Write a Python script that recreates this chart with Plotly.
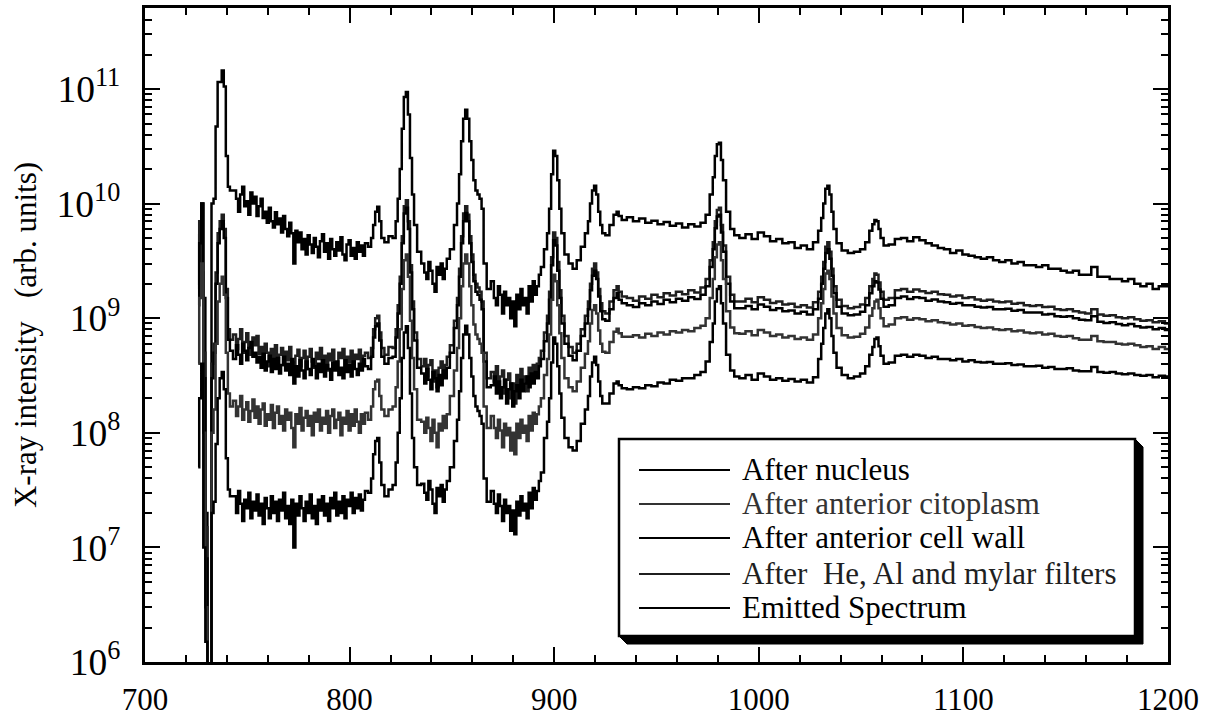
import plotly.graph_objects as go

# ---------------- data ----------------
energy = [
    726, 727, 728, 729, 730, 731, 732, 733, 734, 735, 736, 737, 738, 739, 740, 741, 742,
    744, 745, 746, 747, 748, 749, 750, 751, 752, 753,
    754, 755, 756, 757, 758, 759, 760, 761, 762, 763,
    764, 765, 766, 767, 768, 769, 770, 771, 772, 773,
    774, 775, 776, 777, 778, 779, 780, 781, 782, 783,
    784, 785, 786, 787, 788, 789, 790, 791, 792, 793,
    794, 795, 796, 797, 798, 799, 800, 801, 802, 803,
    804, 805, 806, 807, 808,
    810, 811, 812, 813, 814, 815, 816, 818, 820, 822, 823, 824, 825, 826, 827, 828, 829,
    830, 831, 832, 834,
    836, 837, 838, 839, 840, 841, 842, 843, 844, 845, 846, 847, 848,
    850, 852, 853, 854, 855, 856, 857, 858, 859, 860, 861, 862, 863, 864, 865, 866, 868,
    870, 871, 872, 873, 874, 875, 876, 877, 878, 879, 880, 881, 882, 883, 884, 885, 886,
    887, 888, 889, 890, 891, 892, 893, 894,
    896, 897, 898, 899, 900, 901, 902, 903, 904, 906, 908, 910, 912, 914, 916, 917, 918,
    919, 920, 921, 922, 923, 924, 926, 928, 930, 931, 932, 934,
    937, 940, 943, 946, 949, 952, 955, 958, 961, 964, 967, 970, 973,
    975, 977, 978, 979, 980, 981, 982, 983, 985, 987, 989,
    992, 995, 998, 1001, 1004, 1007, 1010, 1013, 1016, 1019, 1022, 1025, 1028,
    1030, 1031, 1032, 1033, 1034, 1035, 1036, 1037, 1039, 1042, 1045, 1048, 1051, 1053,
    1055, 1056, 1057, 1058, 1059, 1060, 1062, 1065,
    1068, 1071, 1074, 1077, 1080, 1083, 1086, 1089, 1092, 1095, 1098, 1101, 1104, 1107,
    1110, 1113, 1116, 1119, 1122, 1125, 1128, 1131, 1134, 1137, 1140, 1143, 1146, 1149,
    1152, 1155, 1158, 1161, 1164, 1167, 1170, 1173, 1176, 1179, 1182, 1185, 1188, 1191,
    1194, 1197, 1200,
]

emitted = [
    5.5e9, 2.0e9, 1.0e10, 1.5e9, 2.0e7, 4e5, 4e5, 1.0e10, 1.1e10, 4.7e10, 1.15e11, 1.15e11,
    1.45e11, 1.05e11, 2.6e10, 1.4e10, 1.3e10,
    1.3e10, 1.1e10, 8.5e9, 1.2e10, 1.4e10, 9.5e9, 1.05e10, 8.0e9, 1.25e10, 1.0e10,
    1.15e10, 7.8e9, 9.5e9, 1.1e10, 7.5e9, 8.5e9, 6.8e9, 9.2e9, 7.0e9, 6.2e9,
    8.4e9, 6.6e9, 7.4e9, 5.6e9, 7.8e9, 6.0e9, 5.2e9, 6.8e9, 5.5e9, 3.0e9,
    5.8e9, 4.6e9, 5.6e9, 4.0e9, 4.9e9, 3.6e9, 5.3e9, 4.4e9, 3.7e9, 5.0e9,
    4.2e9, 3.4e9, 4.7e9, 5.4e9, 3.8e9, 4.5e9, 3.3e9, 4.9e9, 4.0e9, 3.5e9,
    4.6e9, 3.9e9, 5.1e9, 3.6e9, 3.2e9, 4.4e9, 4.8e9, 3.5e9, 4.1e9, 3.3e9,
    4.6e9, 3.8e9, 4.3e9, 3.5e9, 4.5e9,
    4.2e9, 5.0e9, 6.5e9, 8.5e9, 9.4e9, 7.0e9, 5.0e9, 4.6e9, 5.2e9, 5.0e9, 7.0e9, 1.1e10,
    2.0e10, 4.5e10, 8.5e10, 9.4e10, 6.0e10, 2.5e10, 1.2e10, 6.5e9, 3.8e9,
    3.0e9, 2.5e9, 2.2e9, 3.1e9, 2.6e9, 2.0e9, 1.7e9, 2.8e9, 2.4e9, 3.0e9, 2.2e9, 2.7e9, 3.3e9,
    4.0e9, 6.5e9, 1.0e10, 1.8e10, 3.5e10, 5.5e10, 6.6e10, 5.5e10, 3.5e10, 2.4e10, 1.6e10,
    1.3e10, 1.2e10, 1.1e10, 9.0e9, 3.0e9, 1.8e9,
    2.1e9, 1.5e9, 1.3e9, 1.9e9, 1.6e9, 1.1e9, 1.7e9, 1.3e9, 1.5e9, 1.0e9, 1.4e9, 8.5e8,
    1.6e9, 1.2e9, 1.8e9, 1.3e9, 1.5e9, 1.1e9, 1.9e9, 1.4e9, 2.1e9, 1.6e9, 1.9e9, 2.4e9, 2.8e9,
    4.0e9, 5.5e9, 9.0e9, 1.8e10, 2.9e10, 2.6e10, 1.6e10, 9.0e9, 5.5e9, 3.6e9, 3.0e9, 2.7e9,
    3.2e9, 4.2e9, 5.5e9, 7.0e9, 1.0e10, 1.3e10, 1.43e10, 1.2e10, 8.5e9, 6.5e9, 5.5e9, 5.3e9,
    6.5e9, 8.0e9, 8.5e9, 7.8e9, 7.2e9,
    7.6e9, 7.0e9, 7.4e9, 6.8e9, 7.1e9, 6.6e9, 6.9e9, 6.4e9, 6.7e9, 6.2e9, 6.6e9, 6.3e9, 6.8e9,
    8.0e9, 1.2e10, 1.7e10, 2.6e10, 3.3e10, 3.4e10, 2.4e10, 1.6e10, 8.5e9, 6.0e9, 5.3e9,
    5.0e9, 5.4e9, 4.9e9, 5.6e9, 5.2e9, 4.7e9, 4.9e9, 4.5e9, 4.6e9, 4.1e9, 4.3e9, 4.0e9, 4.6e9,
    5.8e9, 7.5e9, 1.0e10, 1.35e10, 1.43e10, 1.2e10, 8.5e9, 6.0e9, 4.5e9, 3.9e9, 3.7e9, 3.8e9,
    4.0e9, 4.6e9, 5.8e9, 6.6e9, 7.2e9, 7.0e9, 6.0e9, 5.0e9, 4.3e9, 4.4e9,
    4.9e9, 5.0e9, 4.7e9, 5.1e9, 4.8e9, 4.5e9, 4.3e9, 4.1e9, 4.0e9, 3.7e9, 3.9e9, 3.6e9, 3.5e9,
    3.4e9, 3.3e9, 3.4e9, 3.2e9, 3.1e9, 3.2e9, 3.0e9, 3.1e9, 2.9e9, 2.9e9, 2.8e9, 2.9e9, 2.7e9,
    2.7e9, 2.6e9, 2.5e9, 2.6e9, 2.4e9, 2.4e9, 2.8e9, 2.3e9, 2.3e9, 2.2e9, 2.2e9, 2.1e9, 2.2e9,
    2.0e9, 1.9e9, 2.0e9, 1.8e9, 1.9e9, 1.9e9,
]

after_filters = [
    1.8e9, 7.0e9, 2.5e9, 5.0e8, 1.5e7, 4e5, 4e5, 4.0e8, 6.0e8, 2.5e9, 5.5e9, 7.0e9, 8.0e9,
    6.0e9, 1.8e9, 8.0e8, 6.5e8,
    7.2e8, 5.4e8, 6.6e8, 8.0e8, 5.0e8, 6.2e8, 7.4e8, 5.6e8, 4.8e8, 6.8e8,
    5.8e8, 7.0e8, 4.9e8, 5.6e8, 4.2e8, 6.0e8, 5.0e8, 3.8e8, 5.4e8, 4.6e8,
    5.8e8, 4.0e8, 4.8e8, 5.5e8, 3.9e8, 5.1e8, 4.3e8, 5.6e8, 4.1e8, 3.3e8,
    4.7e8, 5.3e8, 3.8e8, 4.5e8, 5.2e8, 3.6e8, 4.6e8, 5.4e8, 4.2e8, 3.7e8,
    5.0e8, 4.4e8, 5.5e8, 3.9e8, 4.7e8, 3.5e8, 4.9e8, 4.3e8, 5.3e8, 4.0e8,
    3.6e8, 5.0e8, 4.5e8, 5.4e8, 3.8e8, 4.6e8, 4.1e8, 5.2e8, 3.7e8, 4.8e8,
    4.4e8, 5.3e8, 4.0e8, 4.7e8, 5.0e8,
    4.5e8, 5.5e8, 8.0e8, 1.0e9, 1.05e9, 7.5e8, 5.5e8, 4.8e8, 5.6e8, 5.5e8, 8.0e8, 1.3e9,
    2.3e9, 5.2e9, 9.5e9, 1.07e10, 7.0e9, 2.9e9, 1.4e9, 7.5e8, 4.4e8,
    3.8e8, 4.4e8, 3.1e8, 3.9e8, 4.3e8, 2.8e8, 3.5e8, 2.5e8, 3.7e8, 4.2e8, 3.2e8, 3.9e8, 4.6e8,
    5.8e8, 9.5e8, 1.5e9, 2.7e9, 5.2e9, 8.2e9, 9.5e9, 8.0e9, 5.2e9, 3.6e9, 2.4e9, 2.0e9,
    1.85e9, 1.7e9, 1.4e9, 5.0e8, 3.0e8,
    3.4e8, 2.8e8, 3.8e8, 2.4e8, 3.1e8, 3.5e8, 2.2e8, 2.9e8, 3.3e8, 2.0e8, 2.7e8, 1.8e8,
    3.2e8, 2.5e8, 3.6e8, 2.8e8, 3.1e8, 2.3e8, 3.7e8, 3.0e8, 3.9e8, 3.2e8, 4.0e8, 4.5e8, 5.2e8,
    7.5e8, 1.05e9, 1.7e9, 3.4e9, 5.6e9, 5.0e9, 3.1e9, 1.75e9, 1.05e9, 7.0e8, 5.6e8, 5.0e8,
    6.0e8, 8.0e8, 1.05e9, 1.4e9, 2.0e9, 2.7e9, 3.0e9, 2.5e9, 1.8e9, 1.35e9, 1.15e9, 1.1e9,
    1.4e9, 1.75e9, 1.9e9, 1.7e9, 1.55e9,
    1.5e9, 1.42e9, 1.55e9, 1.48e9, 1.6e9, 1.52e9, 1.65e9, 1.58e9, 1.7e9, 1.62e9, 1.75e9,
    1.68e9, 1.85e9,
    2.2e9, 3.2e9, 4.6e9, 7.0e9, 8.8e9, 9.2e9, 6.5e9, 4.3e9, 2.3e9, 1.6e9, 1.4e9,
    1.4e9, 1.48e9, 1.38e9, 1.52e9, 1.45e9, 1.36e9, 1.4e9, 1.32e9, 1.34e9, 1.25e9, 1.3e9,
    1.24e9, 1.38e9,
    1.7e9, 2.3e9, 3.1e9, 4.2e9, 4.6e9, 3.8e9, 2.7e9, 1.9e9, 1.45e9, 1.28e9, 1.22e9, 1.25e9,
    1.32e9, 1.5e9, 1.9e9, 2.2e9, 2.45e9, 2.4e9, 2.05e9, 1.7e9, 1.45e9, 1.5e9,
    1.75e9, 1.8e9, 1.7e9, 1.78e9, 1.72e9, 1.66e9, 1.7e9, 1.62e9, 1.6e9, 1.55e9, 1.58e9, 1.5e9,
    1.52e9, 1.46e9, 1.42e9, 1.45e9, 1.4e9, 1.38e9, 1.4e9, 1.34e9, 1.36e9, 1.3e9, 1.28e9,
    1.3e9, 1.25e9, 1.26e9, 1.2e9, 1.18e9, 1.2e9, 1.15e9, 1.12e9, 1.1e9, 1.2e9, 1.08e9,
    1.05e9, 1.06e9, 1.02e9, 1.0e9, 1.02e9, 9.8e8, 9.5e8, 9.6e8, 9.2e8, 9.4e8, 9.0e8,
]

after_cell_wall = [
    1.3e9, 4.5e9, 1.0e10, 3.0e8, 8.0e6, 4e5, 4e5, 3.0e8, 5.0e8, 2.0e9, 4.5e9, 6.0e9, 7.0e9,
    5.0e9, 1.5e9, 6.5e8, 5.2e8,
    4.4e8, 5.8e8, 4.8e8, 4.0e8, 6.0e8, 5.2e8, 4.3e8, 5.5e8, 6.2e8, 4.6e8,
    5.0e8, 4.1e8, 4.6e8, 3.7e8, 4.9e8, 3.5e8, 4.2e8, 4.7e8, 3.4e8, 4.4e8,
    3.6e8, 4.5e8, 3.3e8, 3.9e8, 4.6e8, 3.5e8, 4.0e8, 3.2e8, 4.4e8, 2.7e8,
    3.8e8, 3.1e8, 4.3e8, 3.5e8, 3.0e8, 4.2e8, 3.6e8, 3.2e8, 4.4e8, 3.8e8,
    3.0e8, 4.0e8, 3.4e8, 4.3e8, 3.1e8, 3.9e8, 3.6e8, 2.9e8, 4.1e8, 3.5e8,
    4.2e8, 3.2e8, 3.7e8, 3.0e8, 4.3e8, 3.4e8, 3.9e8, 3.1e8, 4.2e8, 3.6e8,
    3.2e8, 4.0e8, 3.5e8, 4.4e8, 3.8e8,
    3.6e8, 4.6e8, 6.8e8, 8.5e8, 9.0e8, 6.4e8, 4.6e8, 4.0e8, 4.5e8, 4.6e8, 6.8e8, 1.1e9,
    2.0e9, 4.5e9, 8.2e9, 9.2e9, 6.0e9, 2.5e9, 1.2e9, 6.4e8, 3.7e8,
    3.3e8, 2.7e8, 3.6e8, 2.9e8, 2.4e8, 3.4e8, 3.0e8, 2.3e8, 3.2e8, 2.6e8, 3.5e8, 3.0e8, 3.7e8,
    5.0e8, 8.2e8, 1.3e9, 2.3e9, 4.5e9, 7.0e9, 8.3e9, 7.0e9, 4.5e9, 3.1e9, 2.1e9, 1.7e9,
    1.6e9, 1.45e9, 1.2e9, 4.2e8, 2.5e8,
    2.6e8, 3.1e8, 2.2e8, 2.8e8, 2.0e8, 2.5e8, 2.9e8, 1.8e8, 2.4e8, 2.7e8, 1.7e8, 2.3e8,
    2.6e8, 2.0e8, 2.9e8, 2.3e8, 2.7e8, 3.1e8, 2.5e8, 3.3e8, 2.7e8, 3.4e8, 3.0e8, 3.8e8, 4.4e8,
    6.3e8, 9.0e8, 1.45e9, 2.9e9, 4.8e9, 4.3e9, 2.6e9, 1.5e9, 9.0e8, 6.0e8, 4.7e8, 4.3e8,
    5.2e8, 7.0e8, 9.0e8, 1.2e9, 1.75e9, 2.35e9, 2.6e9, 2.2e9, 1.55e9, 1.15e9, 9.8e8, 9.5e8,
    1.2e9, 1.5e9, 1.65e9, 1.45e9, 1.35e9,
    1.3e9, 1.25e9, 1.35e9, 1.3e9, 1.4e9, 1.33e9, 1.45e9, 1.38e9, 1.48e9, 1.42e9, 1.52e9,
    1.47e9, 1.6e9,
    1.9e9, 2.8e9, 4.0e9, 6.1e9, 7.7e9, 8.0e9, 5.6e9, 3.8e9, 2.0e9, 1.4e9, 1.22e9,
    1.22e9, 1.28e9, 1.2e9, 1.32e9, 1.26e9, 1.18e9, 1.22e9, 1.15e9, 1.17e9, 1.1e9, 1.14e9,
    1.08e9, 1.2e9,
    1.48e9, 2.0e9, 2.7e9, 3.7e9, 4.0e9, 3.3e9, 2.35e9, 1.65e9, 1.26e9, 1.1e9, 1.06e9, 1.08e9,
    1.14e9, 1.3e9, 1.65e9, 1.9e9, 2.1e9, 2.05e9, 1.78e9, 1.48e9, 1.26e9, 1.3e9,
    1.5e9, 1.55e9, 1.47e9, 1.52e9, 1.5e9, 1.42e9, 1.46e9, 1.4e9, 1.38e9, 1.34e9, 1.36e9,
    1.3e9, 1.3e9, 1.26e9, 1.24e9, 1.25e9, 1.2e9, 1.2e9, 1.21e9, 1.16e9, 1.18e9, 1.12e9,
    1.12e9, 1.12e9, 1.08e9, 1.09e9, 1.04e9, 1.03e9, 1.04e9, 1.0e9, 9.7e8, 9.6e8, 1.04e9,
    9.3e8, 9.1e8, 9.2e8, 8.9e8, 8.7e8, 8.9e8, 8.5e8, 8.3e8, 8.4e8, 8.0e8, 8.2e8, 7.9e8,
]

after_citoplasm = [
    4.0e8, 1.5e9, 3.0e9, 1.0e8, 3.0e6, 4e5, 4e5, 1.0e8, 1.6e8, 6.0e8, 1.4e9, 2.0e9, 2.3e9,
    1.6e9, 5.0e8, 2.2e8, 1.7e8,
    1.9e8, 1.4e8, 1.7e8, 2.1e8, 1.3e8, 1.6e8, 1.85e8, 1.25e8, 1.55e8, 1.95e8,
    1.35e8, 1.7e8, 1.2e8, 1.6e8, 1.8e8, 1.15e8, 1.45e8, 1.3e8, 1.75e8, 1.1e8,
    1.5e8, 1.7e8, 1.2e8, 1.4e8, 1.05e8, 1.6e8, 1.3e8, 1.5e8, 1.1e8, 7.5e7,
    1.45e8, 1.2e8, 1.65e8, 1.05e8, 1.35e8, 1.55e8, 1.15e8, 1.4e8, 9.5e7, 1.5e8,
    1.25e8, 1.6e8, 1.05e8, 1.35e8, 1.2e8, 1.55e8, 1.0e8, 1.4e8, 1.6e8, 1.1e8,
    1.3e8, 1.5e8, 9.5e7, 1.35e8, 1.2e8, 1.55e8, 1.05e8, 1.45e8, 1.15e8, 1.6e8,
    1.25e8, 1.0e8, 1.45e8, 1.2e8, 1.5e8,
    1.3e8, 1.7e8, 2.4e8, 2.8e8, 2.9e8, 2.1e8, 1.6e8, 1.4e8, 1.6e8, 1.7e8, 2.5e8, 4.2e8,
    8.0e8, 1.8e9, 3.2e9, 3.6e9, 2.3e9, 9.5e8, 4.5e8, 2.4e8, 1.3e8,
    1.25e8, 1.0e8, 1.35e8, 1.1e8, 8.5e7, 1.3e8, 1.0e8, 7.5e7, 1.2e8, 1.05e8, 1.4e8, 1.1e8,
    1.45e8,
    2.1e8, 3.5e8, 5.5e8, 1.0e9, 1.9e9, 3.0e9, 3.6e9, 3.0e9, 1.9e9, 1.3e9, 8.8e8, 7.2e8,
    6.6e8, 6.0e8, 5.0e8, 1.7e8, 1.1e8,
    1.4e8, 1.1e8, 9.0e7, 1.3e8, 1.05e8, 7.5e7, 1.2e8, 9.5e7, 1.1e8, 7.0e7, 1.0e8, 6.5e7,
    1.2e8, 9.0e7, 1.3e8, 1.0e8, 1.15e8, 8.5e7, 1.4e8, 1.05e8, 1.5e8, 1.2e8, 1.45e8, 1.7e8,
    2.0e8,
    3.2e8, 4.4e8, 7.2e8, 1.45e9, 2.4e9, 2.1e9, 1.3e9, 7.4e8, 4.5e8, 3.0e8, 2.5e8, 2.3e8,
    2.8e8, 3.7e8, 4.9e8, 6.3e8, 9.0e8, 1.18e9, 1.3e9, 1.1e9, 7.8e8, 6.0e8, 5.1e8, 5.0e8,
    6.2e8, 7.6e8, 8.1e8, 7.4e8, 6.9e8,
    6.9e8, 7.1e8, 6.8e8, 7.3e8, 7.0e8, 7.5e8, 7.2e8, 7.7e8, 7.5e8, 7.9e8, 7.7e8, 8.2e8, 8.6e8,
    1.0e9, 1.5e9, 2.2e9, 3.4e9, 4.4e9, 4.6e9, 3.2e9, 2.2e9, 1.15e9, 8.3e8, 7.4e8,
    7.3e8, 7.7e8, 7.1e8, 7.9e8, 7.5e8, 7.0e8, 7.2e8, 6.8e8, 7.0e8, 6.6e8, 6.8e8, 6.5e8, 7.2e8,
    1.0e9, 1.35e9, 1.8e9, 2.45e9, 2.6e9, 2.2e9, 1.55e9, 1.1e9, 8.2e8, 7.1e8, 6.8e8, 6.9e8,
    7.3e8, 8.3e8, 1.05e9, 1.22e9, 1.4e9, 1.45e9, 1.22e9, 1.0e9, 8.5e8, 8.8e8,
    1.0e9, 1.02e9, 9.7e8, 1.0e9, 9.8e8, 9.4e8, 9.6e8, 9.2e8, 9.1e8, 8.8e8, 9.0e8, 8.6e8,
    8.7e8, 8.4e8, 8.2e8, 8.3e8, 8.0e8, 7.9e8, 8.0e8, 7.7e8, 7.8e8, 7.5e8, 7.4e8, 7.5e8,
    7.2e8, 7.3e8, 7.0e8, 6.9e8, 7.0e8, 6.7e8, 6.5e8, 6.5e8, 7.0e8, 6.3e8, 6.2e8, 6.2e8,
    6.0e8, 5.9e8, 6.0e8, 5.8e8, 5.6e8, 5.7e8, 5.4e8, 5.6e8, 5.4e8,
]

after_nucleus = [
    5.0e7, 2.0e8, 4.0e8, 1.0e7, 1.5e6, 4e5, 4e5, 2.0e7, 2.5e7, 8.0e7, 2.0e8, 3.0e8, 3.4e8,
    2.4e8, 6.0e7, 3.2e7, 2.8e7,
    2.8e7, 2.0e7, 3.1e7, 2.4e7, 1.7e7, 2.6e7, 2.2e7, 3.0e7, 1.8e7, 2.5e7,
    2.1e7, 2.9e7, 1.9e7, 2.4e7, 1.6e7, 2.7e7, 2.2e7, 1.8e7, 2.8e7, 2.0e7,
    2.5e7, 1.7e7, 2.6e7, 2.1e7, 3.0e7, 1.8e7, 2.3e7, 1.6e7, 2.6e7, 1.0e7,
    2.4e7, 1.9e7, 2.8e7, 2.2e7, 1.7e7, 2.5e7, 2.0e7, 2.9e7, 1.8e7, 2.3e7,
    1.6e7, 2.6e7, 2.1e7, 2.8e7, 1.9e7, 2.4e7, 1.7e7, 2.7e7, 2.2e7, 3.0e7,
    1.9e7, 2.5e7, 2.0e7, 2.8e7, 1.8e7, 2.6e7, 2.3e7, 3.0e7, 2.0e7, 2.7e7,
    2.2e7, 2.9e7, 2.1e7, 2.6e7, 3.1e7,
    3.0e7, 4.0e7, 6.5e7, 8.5e7, 9.0e7, 5.5e7, 3.5e7, 2.8e7, 3.2e7, 3.5e7, 5.5e7, 1.0e8,
    2.0e8, 4.5e8, 7.5e8, 8.5e8, 5.5e8, 2.2e8, 9.0e7, 5.0e7, 3.5e7,
    3.6e7, 3.0e7, 2.6e7, 3.8e7, 3.2e7, 2.4e7, 2.0e7, 3.3e7, 2.8e7, 3.5e7, 2.5e7, 3.2e7, 3.8e7,
    5.0e7, 8.5e7, 1.3e8, 2.3e8, 4.5e8, 7.2e8, 8.6e8, 7.2e8, 4.5e8, 3.1e8, 2.1e8, 1.7e8,
    1.55e8, 1.4e8, 1.2e8, 4.0e7, 2.5e7,
    3.1e7, 2.4e7, 2.0e7, 2.9e7, 2.3e7, 1.7e7, 2.6e7, 2.0e7, 2.3e7, 1.4e7, 2.1e7, 1.3e7,
    2.5e7, 1.9e7, 2.8e7, 2.1e7, 2.4e7, 1.8e7, 3.0e7, 2.2e7, 3.3e7, 2.6e7, 3.1e7, 3.8e7, 4.5e7,
    9.0e7, 1.25e8, 2.0e8, 4.1e8, 6.8e8, 6.0e8, 3.8e8, 2.2e8, 1.35e8, 9.0e7, 7.5e7, 7.0e7,
    8.5e7, 1.2e8, 1.6e8, 2.1e8, 3.1e8, 4.1e8, 4.6e8, 3.9e8, 2.8e8, 2.1e8, 1.8e8, 1.8e8,
    2.2e8, 2.7e8, 2.8e8, 2.6e8, 2.45e8,
    2.4e8, 2.5e8, 2.45e8, 2.6e8, 2.55e8, 2.75e8, 2.7e8, 2.9e8, 2.85e8, 3.0e8, 3.0e8, 3.2e8,
    3.4e8,
    4.2e8, 6.2e8, 9.0e8, 1.4e9, 1.8e9, 1.9e9, 1.35e9, 9.0e8, 4.8e8, 3.5e8, 3.1e8,
    3.0e8, 3.2e8, 2.9e8, 3.3e8, 3.1e8, 2.9e8, 3.0e8, 2.85e8, 2.95e8, 2.8e8, 2.9e8, 2.75e8,
    3.05e8,
    4.4e8, 6.0e8, 8.2e8, 1.1e9, 1.2e9, 1.0e9, 7.0e8, 5.0e8, 3.7e8, 3.2e8, 3.0e8, 3.1e8,
    3.3e8, 3.8e8, 4.8e8, 5.6e8, 6.6e8, 6.8e8, 5.7e8, 4.7e8, 4.0e8, 4.1e8,
    4.7e8, 4.8e8, 4.6e8, 4.8e8, 4.7e8, 4.5e8, 4.6e8, 4.4e8, 4.4e8, 4.3e8, 4.4e8, 4.2e8,
    4.3e8, 4.15e8, 4.1e8, 4.15e8, 4.0e8, 4.0e8, 4.05e8, 3.9e8, 3.95e8, 3.8e8, 3.8e8,
    3.85e8, 3.7e8, 3.75e8, 3.6e8, 3.6e8, 3.65e8, 3.5e8, 3.45e8, 3.45e8, 3.75e8, 3.4e8,
    3.35e8, 3.4e8, 3.3e8, 3.25e8, 3.3e8, 3.2e8, 3.15e8, 3.2e8, 3.05e8, 3.15e8, 3.1e8,
]

series_names = [
    "After nucleus",
    "After anterior citoplasm",
    "After anterior cell wall",
    "After\u00a0 He, Al and mylar filters",
    "Emitted Spectrum",
]
series_values = [after_nucleus, after_citoplasm, after_cell_wall, after_filters, emitted]
series_colors = ["#000000", "#333333", "#000000", "#1f1f1f", "#000000"]

for nm, vals in zip(series_names, series_values):
    if len(vals) != len(energy):
        raise SystemExit(f"{nm}: {len(vals)} values vs {len(energy)} energies")

# ---------------- figure ----------------
FONT = "Liberation Serif"
W, H = 1207, 717
L, R, T, B = 145, 1168, 8, 662   # plot area in pixels

fig = go.Figure()
for i in [4, 3, 2, 1, 0]:
    fig.add_trace(go.Scatter(
        x=energy, y=series_values[i], name=series_names[i], mode="lines",
        line=dict(color=series_colors[i], width=2.5, shape="hvh"),
        showlegend=False,
    ))


def fx(p):
    return (p - L) / (R - L)


def fy(p):
    return (B - p) / (B - T)


# legend box with 3D shadow, as in the reference
bx0, bx1, by0, by1, sh = 619, 1135, 439, 636, 8
shadow_path = (
    f"M {fx(bx1)},{fy(by0)} L {fx(bx1 + sh)},{fy(by0 + sh)} "
    f"L {fx(bx1 + sh)},{fy(by1 + sh)} L {fx(bx0 + sh)},{fy(by1 + sh)} "
    f"L {fx(bx0)},{fy(by1)} L {fx(bx1)},{fy(by1)} Z"
)
shapes = [
    dict(type="path", xref="paper", yref="paper", path=shadow_path,
         fillcolor="black", line=dict(color="black", width=1), layer="above"),
    dict(type="rect", xref="paper", yref="paper", x0=fx(bx0), x1=fx(bx1),
         y0=fy(by1), y1=fy(by0), fillcolor="white",
         line=dict(color="black", width=2.5), layer="above"),
]
annotations = []
row_y = [470, 504, 538, 574, 608]
for k in range(5):
    shapes.append(dict(type="line", xref="paper", yref="paper",
                       x0=fx(639), x1=fx(730), y0=fy(row_y[k]), y1=fy(row_y[k]),
                       line=dict(color=series_colors[k], width=2.2), layer="above"))
    annotations.append(dict(xref="paper", yref="paper", x=fx(740), y=fy(row_y[k] - 1),
                            xanchor="left", yanchor="middle", showarrow=False,
                            text=series_names[k],
                            font=dict(family=FONT, size=31, color=series_colors[k])))

axis_common = dict(
    showline=True, linecolor="black", linewidth=2.5, mirror="ticks",
    ticks="inside", ticklen=15, tickwidth=2, tickcolor="black",
    showgrid=False, zeroline=False,
)

fig.update_layout(
    width=W, height=H,
    margin=dict(l=L, r=W - R, t=T, b=H - B, autoexpand=False),
    paper_bgcolor="white", plot_bgcolor="white",
    font=dict(family=FONT, color="black"),
    shapes=shapes, annotations=annotations,
    xaxis=dict(
        range=[700, 1200], dtick=100, tick0=700,
        minor=dict(ticks="inside", ticklen=7, tickwidth=2, tickcolor="black", dtick=20,
                   showgrid=False),
        ticklabelstandoff=8,
        tickfont=dict(family=FONT, size=31, color="black"),
        **axis_common,
    ),
    yaxis=dict(
        type="log", range=[6, 11.707], dtick=1, exponentformat="power",
        showexponent="all",
        minor=dict(ticks="inside", ticklen=7, tickwidth=2, tickcolor="black", dtick="D1",
                   showgrid=False),
        ticklabelstandoff=16,
        tickfont=dict(family=FONT, size=30, color="black"),
        title=dict(text="X-ray intensity\u00a0\u00a0\u00a0(arb. units)",
                   font=dict(family=FONT, size=31, color="black"), standoff=11),
        **axis_common,
    ),
)

fig.write_html("out.html")
